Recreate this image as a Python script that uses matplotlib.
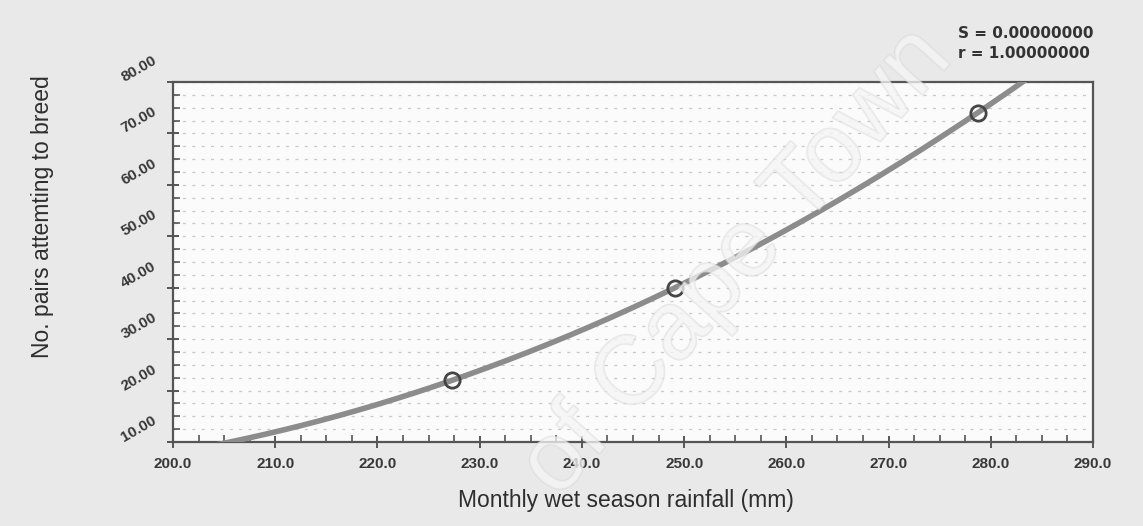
#!/usr/bin/env python3
import numpy as np
import matplotlib
matplotlib.use("Agg")
from matplotlib import pyplot as plt
from matplotlib import patheffects
from matplotlib.ticker import MultipleLocator, FormatStrFormatter
from matplotlib.transforms import ScaledTranslation

# observed points (rainfall mm, breeding pairs)
rainfall = [227.3, 249.1, 278.7]
pairs = [22.0, 40.0, 74.0]

x_label = "Monthly wet season rainfall (mm)"
y_label = "No. pairs attemting to breed"
stats = ["S = 0.00000000", "r = 1.00000000"]

plt.rcParams["font.family"] = ["Liberation Sans", "DejaVu Sans"]

TICK_FONT = dict(family="Liberation Sans", weight="bold", size=11)


def main():
    fig = plt.figure(figsize=(11.43, 5.26), dpi=100, facecolor="#e9e9e9")
    ax = fig.add_axes([0.1514, 0.1597, 0.8049, 0.6844])
    ax.set_facecolor("#fbfbfb")

    # quadratic fit through the three points
    coef = np.polyfit(rainfall, pairs, 2)
    xs = np.linspace(200, 290, 400)
    ax.plot(xs, np.polyval(coef, xs), color="#8c8c8c", lw=4, zorder=3,
            solid_capstyle="round")
    ax.plot(rainfall, pairs, "o", ms=11, mfc="none", mec="#454545", mew=2,
            zorder=4)

    ax.set_xlim(200, 290)
    ax.set_ylim(10, 80)
    ax.xaxis.set_major_locator(MultipleLocator(10))
    ax.xaxis.set_minor_locator(MultipleLocator(2.5))
    ax.yaxis.set_major_locator(MultipleLocator(10))
    ax.yaxis.set_minor_locator(MultipleLocator(2.5))
    ax.xaxis.set_major_formatter(FormatStrFormatter("%.1f"))
    ax.yaxis.set_major_formatter(FormatStrFormatter("%.2f"))

    ax.yaxis.grid(True, which="both", color="#cacaca", ls=(0, (2.5, 5)), lw=0.9)
    ax.set_axisbelow(True)

    for s in ax.spines.values():
        s.set_color("#555555")
        s.set_linewidth(1.6)

    ax.tick_params(which="major", direction="inout", length=9, width=1.4,
                   color="#555555", labelcolor="#383838")
    ax.tick_params(which="minor", direction="in", length=5, width=1.2,
                   color="#555555")
    ax.tick_params(axis="x", pad=6)
    ax.tick_params(axis="y", pad=0)
    for lab in ax.get_xticklabels():
        lab.set_fontproperties(TICK_FONT)
    offset = ScaledTranslation(-0.28, 0.13, fig.dpi_scale_trans)
    for lab in ax.get_yticklabels():
        lab.set_fontproperties(TICK_FONT)
        lab.set_rotation(30)
        lab.set_ha("center")
        lab.set_va("center")
        lab.set_transform(lab.get_transform() + offset)

    fig.text(0.548, 0.049, x_label, ha="center", va="center", fontsize=16.5,
             color="#2e2e2e")
    fig.text(0.037, 0.589, y_label, ha="center", va="center", rotation=90,
             fontsize=16.5, color="#2e2e2e")

    fig.text(0.838, 0.937, stats[0], ha="left", va="center", fontsize=11,
             family="DejaVu Sans", fontweight="bold", color="#333333")
    fig.text(0.838, 0.899, stats[1], ha="left", va="center", fontsize=11,
             family="DejaVu Sans", fontweight="bold", color="#333333")

    # scan watermark
    fig.text(0.645, 0.50, "of Cape Town", ha="center", va="center",
             rotation=48, fontsize=70, color="#f6f6f6", alpha=0.5, zorder=10,
             path_effects=[patheffects.withStroke(linewidth=1.5,
                                                  foreground="#d6d6d6")])

    fig.savefig("out.png", dpi=100, facecolor=fig.get_facecolor())


if __name__ == "__main__":
    main()
